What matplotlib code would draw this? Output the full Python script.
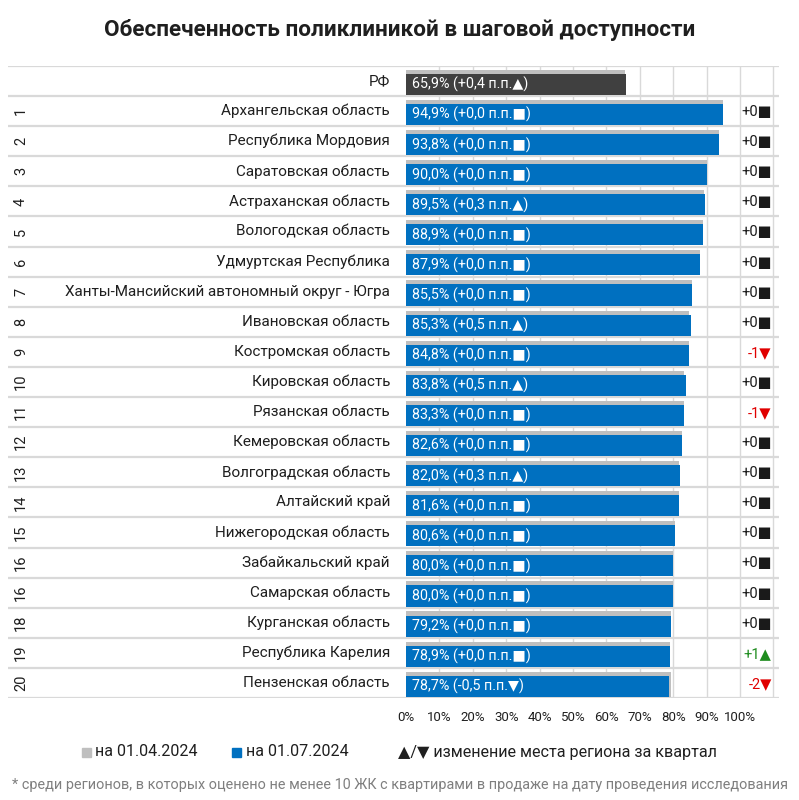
import matplotlib
matplotlib.use("Agg")
import matplotlib.pyplot as plt
from matplotlib.patches import Rectangle

plt.rcParams['font.family'] = ['Roboto', 'DejaVu Sans']

# ---- data ----
title = "Обеспеченность поликлиникой в шаговой доступности"
ranks = ["1", "2", "3", "4", "5", "6", "7", "8", "9", "10", "11", "12", "13", "14",
         "15", "16", "16", "18", "19", "20"]
regions = ["Архангельская область", "Республика Мордовия", "Саратовская область",
           "Астраханская область", "Вологодская область", "Удмуртская Республика",
           "Ханты-Мансийский автономный округ - Югра", "Ивановская область",
           "Костромская область", "Кировская область", "Рязанская область",
           "Кемеровская область", "Волгоградская область", "Алтайский край",
           "Нижегородская область", "Забайкальский край", "Самарская область",
           "Курганская область", "Республика Карелия", "Пензенская область"]
current = [94.9, 93.8, 90.0, 89.5, 88.9, 87.9, 85.5, 85.3, 84.8, 83.8, 83.3,
           82.6, 82.0, 81.6, 80.6, 80.0, 80.0, 79.2, 78.9, 78.7]
previous = [94.9, 93.8, 90.0, 89.2, 88.9, 87.9, 85.5, 84.8, 84.8, 83.3, 83.3,
            82.6, 81.7, 81.6, 80.6, 80.0, 80.0, 79.2, 78.9, 79.2]
delta_pp = [0.0, 0.0, 0.0, 0.3, 0.0, 0.0, 0.0, 0.5, 0.0, 0.5, 0.0,
            0.0, 0.3, 0.0, 0.0, 0.0, 0.0, 0.0, 0.0, -0.5]
rank_change = [0, 0, 0, 0, 0, 0, 0, 0, -1, 0, -1, 0, 0, 0, 0, 0, 0, 0, 1, -2]
rf_label = "РФ"
rf_current = 65.9
rf_previous = 65.5
rf_delta = 0.4
xticks = [0, 10, 20, 30, 40, 50, 60, 70, 80, 90, 100]
legend_prev = "на 01.04.2024"
legend_cur = "на 01.07.2024"
legend_change = "▲/▼ изменение места региона за квартал"
footnote = ("* среди регионов, в которых оценено не менее 10 ЖК с квартирами "
            "в продаже на дату проведения исследования")

# ---- style ----
BLUE = "#0070C0"
DARK = "#404040"
GRAY = "#BFBFBF"
GRID = "#D9D9D9"
TXT = "#1F1F1F"

W, H = 799, 800
fig = plt.figure(figsize=(W / 100, H / 100), dpi=100)

ax_left_px, ax_right_px = 8, 779
ax_top_px, ax_bot_px = 66, 698
ax = fig.add_axes([ax_left_px / W, (H - ax_bot_px) / H,
                   (ax_right_px - ax_left_px) / W, (ax_bot_px - ax_top_px) / H])
px_per_unit = (740 - 406) / 100.0
xmin = (ax_left_px - 406) / px_per_unit
xmax = (ax_right_px - 406) / px_per_unit
ax.set_xlim(xmin, xmax)
n = len(regions) + 1
ax.set_ylim(n - 0.5, -0.5)
for s in ax.spines.values():
    s.set_visible(False)
ax.set_yticks([])
ax.set_xticks(xticks)
ax.set_xticklabels([f"{t}%" for t in xticks], fontsize=9.5, color=TXT)
ax.tick_params(axis='x', length=0, pad=9.5)

# grid
for g in range(10, 111, 10):
    ax.plot([g, g], [-0.5, n - 0.5], color=GRID, lw=1.0, zorder=0)
for k in range(n + 1):
    ax.plot([xmin, xmax], [k - 0.5, k - 0.5], color=GRID, lw=1.6, zorder=0,
            solid_capstyle='butt')


def fmt(v):
    return f"{v:.1f}".replace('.', ',')


def sym(d):
    return "▲" if d > 0 else ("▼" if d < 0 else "■")


def dfmt(d):
    return ("+" if d >= 0 else "-") + fmt(abs(d))


gray_top, gray_bot = -0.375, 0.46
blue_top = -0.24


def draw_row(i, prev, cur, d, color):
    ax.barh(i + (gray_top + gray_bot) / 2, prev, height=gray_bot - gray_top,
            left=0, color=GRAY, zorder=2)
    ax.barh(i + (blue_top + gray_bot) / 2, cur, height=gray_bot - blue_top,
            left=0, color=color, zorder=3)
    ax.text(1.8, i + 0.12, f"{fmt(cur)}% ({dfmt(d)} п.п.{sym(d)})",
            color="white", fontsize=10.3, va='center', ha='left', zorder=4)


# RF row
draw_row(0, rf_previous, rf_current, rf_delta, DARK)
ax.text(-4.8, 0, rf_label, ha='right', va='center', fontsize=11, color=TXT)

for j, reg in enumerate(regions):
    i = j + 1
    draw_row(i, previous[j], current[j], delta_pp[j], BLUE)
    ax.text(-4.8, i, reg, ha='right', va='center', fontsize=11, color=TXT)
    xr = (21 - 406) / px_per_unit
    ax.text(xr, i, ranks[j], ha='center', va='center', rotation=90,
            fontsize=10.5, color=TXT)
    rc = rank_change[j]
    if rc > 0:
        c, s = "#1E8C1E", "▲"
    elif rc < 0:
        c, s = "#E00000", "▼"
    else:
        c, s = "#1A1A1A", "■"
    ax.text(109.5, i + 0.03, f"{'+' if rc >= 0 else '-'}{abs(rc)}{s}",
            ha='right', va='center', fontsize=10.5, color=c)

# title
fig.text(0.5, 1 - 30 / H, title, ha='center', va='center', fontsize=16.2,
         fontweight='bold', color=TXT)

# legend
ly = 1 - 752 / H
fig.patches.append(Rectangle((82 / W, 1 - 757 / H), 9 / W, 9 / H,
                             transform=fig.transFigure, color=GRAY))
fig.text(95 / W, ly, legend_prev, ha='left', va='center', fontsize=11.5, color=TXT)
fig.patches.append(Rectangle((232 / W, 1 - 757 / H), 9 / W, 9 / H,
                             transform=fig.transFigure, color=BLUE))
fig.text(246 / W, ly, legend_cur, ha='left', va='center', fontsize=11.5, color=TXT)
fig.text(398 / W, ly, legend_change, ha='left', va='center', fontsize=11.6, color=TXT)

fig.text(0.5, 1 - 785 / H, footnote, ha='center', va='center', fontsize=10.4,
         color="#7F7F7F")

fig.savefig("out.png", dpi=100)
